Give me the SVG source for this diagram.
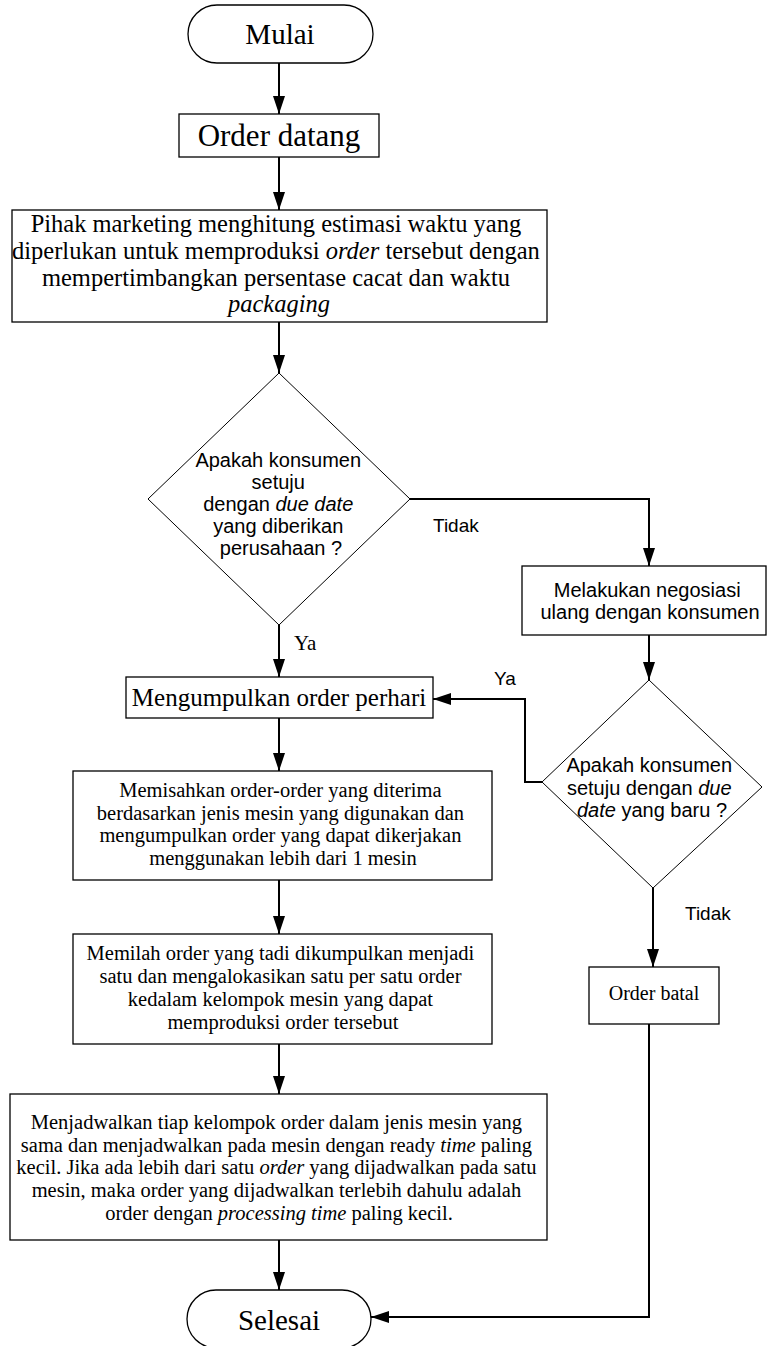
<svg xmlns="http://www.w3.org/2000/svg" width="768" height="1346" viewBox="0 0 768 1346">
<defs>
<style>
.bx{fill:#fff;stroke:#000;stroke-width:1.3}
.dm{fill:#fff;stroke:#000;stroke-width:1}
.cn{fill:none;stroke:#000;stroke-width:2}
.sf{font-family:"Liberation Serif","Times New Roman",serif;fill:#000;text-anchor:middle}
.ss{font-family:"Liberation Sans",Arial,sans-serif;fill:#000;text-anchor:middle}
.lab{font-family:"Liberation Sans",Arial,sans-serif;fill:#000;font-size:19px}
</style>
<marker id="ah" markerUnits="userSpaceOnUse" viewBox="0 0 18 12" refX="18" refY="6" markerWidth="18" markerHeight="12" orient="auto">
<path d="M0,0 L18,6 L0,12 z" fill="#000"/>
</marker>
</defs>
<rect width="768" height="1346" fill="#fff"/>

<g id="connectors">
<path class="cn" d="M279,63 V114" marker-end="url(#ah)"/>
<path class="cn" d="M279,157 V210" marker-end="url(#ah)"/>
<path class="cn" d="M279,322 V373" marker-end="url(#ah)"/>
<path class="cn" d="M279,625 V677" marker-end="url(#ah)"/>
<path class="cn" d="M410,499 H649 V566" marker-end="url(#ah)"/>
<path class="cn" d="M649,635 V680" marker-end="url(#ah)"/>
<path class="cn" d="M542,782 H525 V699 H433" marker-end="url(#ah)"/>
<path class="cn" d="M653,888 V967" marker-end="url(#ah)"/>
<path class="cn" d="M649,1024 V1317 H371" marker-end="url(#ah)"/>
<path class="cn" d="M279,718 V771" marker-end="url(#ah)"/>
<path class="cn" d="M279,880 V934" marker-end="url(#ah)"/>
<path class="cn" d="M279,1044 V1094" marker-end="url(#ah)"/>
<path class="cn" d="M279,1240 V1290" marker-end="url(#ah)"/>
<text class="lab" x="433" y="532">Tidak</text>
<text class="sf" x="294" y="650" font-size="21" text-anchor="start" style="text-anchor:start">Ya</text>
<text class="lab" x="494" y="685">Ya</text>
<text class="lab" x="685" y="920">Tidak</text>
</g>

<g id="mulai">
<rect class="bx" x="188" y="5" width="185" height="58" rx="29" ry="29"/>
<text class="sf" x="280" y="44" font-size="29">Mulai</text>
</g>

<g id="order-datang">
<rect class="bx" x="179" y="114" width="200" height="43"/>
<text class="sf" x="279" y="146" font-size="31">Order datang</text>
</g>

<g id="estimasi">
<rect class="bx" x="12" y="210" width="535" height="112"/>
<text class="sf" font-size="24.5">
<tspan x="279" y="232">Pihak marketing menghitung estimasi waktu yang</tspan>
<tspan x="279" y="259">diperlukan untuk memproduksi <tspan font-style="italic">order</tspan> tersebut dengan</tspan>
<tspan x="279" y="286">mempertimbangkan persentase cacat dan waktu</tspan>
<tspan x="279" y="312" font-style="italic">packaging</tspan>
</text>
</g>

<g id="keputusan1">
<polygon class="dm" points="279,373 410,499 279,625 148,499"/>
<text class="ss" font-size="20">
<tspan x="281" y="467">Apakah konsumen</tspan>
<tspan x="281" y="489">setuju</tspan>
<tspan x="281" y="511">dengan <tspan font-style="italic">due date</tspan></tspan>
<tspan x="281" y="533">yang diberikan</tspan>
<tspan x="281" y="555">perusahaan ?</tspan>
</text>
</g>

<g id="negosiasi">
<rect class="bx" x="522" y="566" width="244" height="69"/>
<text class="ss" font-size="20">
<tspan x="650" y="597">Melakukan negosiasi</tspan>
<tspan x="650" y="619">ulang dengan konsumen</tspan>
</text>
</g>

<g id="keputusan2">
<polygon class="dm" points="649,680 762,787 653,888 542,782"/>
<text class="ss" font-size="20">
<tspan x="652" y="772">Apakah konsumen</tspan>
<tspan x="652" y="795">setuju dengan <tspan font-style="italic">due</tspan></tspan>
<tspan x="652" y="817"><tspan font-style="italic">date</tspan> yang baru ?</tspan>
</text>
</g>

<g id="mengumpulkan">
<rect class="bx" x="126" y="677" width="307" height="41"/>
<text class="sf" x="279" y="706" font-size="25">Mengumpulkan order perhari</text>
</g>

<g id="memisahkan">
<rect class="bx" x="73" y="771" width="419" height="109"/>
<text class="sf" font-size="20.5">
<tspan x="283" y="797">Memisahkan order-order yang diterima</tspan>
<tspan x="283" y="820">berdasarkan jenis mesin yang digunakan dan</tspan>
<tspan x="283" y="842">mengumpulkan order yang dapat dikerjakan</tspan>
<tspan x="283" y="865">menggunakan lebih dari 1 mesin</tspan>
</text>
</g>

<g id="memilah">
<rect class="bx" x="73" y="934" width="419" height="110"/>
<text class="sf" font-size="20.5">
<tspan x="283" y="960">Memilah order yang tadi dikumpulkan menjadi</tspan>
<tspan x="283" y="983">satu dan mengalokasikan satu per satu order</tspan>
<tspan x="283" y="1006">kedalam kelompok mesin yang dapat</tspan>
<tspan x="283" y="1029">memproduksi order tersebut</tspan>
</text>
</g>

<g id="order-batal">
<rect class="bx" x="589" y="967" width="130" height="57"/>
<text class="sf" x="654" y="1000" font-size="20">Order batal</text>
</g>

<g id="menjadwalkan">
<rect class="bx" x="10" y="1094" width="537" height="146"/>
<text class="sf" font-size="20.5">
<tspan x="279" y="1129">Menjadwalkan tiap kelompok order dalam jenis mesin yang</tspan>
<tspan x="279" y="1152">sama dan menjadwalkan pada mesin dengan ready <tspan font-style="italic">time</tspan> paling</tspan>
<tspan x="279" y="1174">kecil. Jika ada lebih dari satu <tspan font-style="italic">order</tspan> yang dijadwalkan pada satu</tspan>
<tspan x="279" y="1197">mesin, maka order yang dijadwalkan terlebih dahulu adalah</tspan>
<tspan x="279" y="1220">order dengan <tspan font-style="italic">processing time</tspan> paling kecil.</tspan>
</text>
</g>

<g id="selesai">
<rect class="bx" x="187" y="1290" width="184" height="58" rx="29" ry="29"/>
<text class="sf" x="279" y="1330" font-size="29">Selesai</text>
</g>
</svg>
